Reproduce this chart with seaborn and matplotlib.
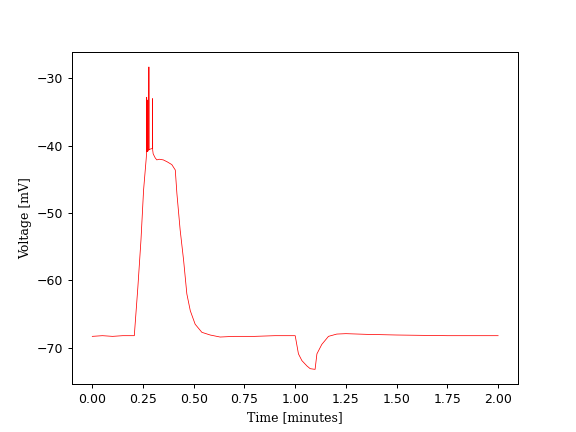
import numpy as np
import pandas as pd
import matplotlib
matplotlib.use("Agg")
import matplotlib.pyplot as plt
import seaborn as sns

# trace, time in minutes, voltage in mV
time_min = [
    0.00, 0.05, 0.10, 0.15, 0.207,
    0.2246, 0.2399, 0.2527, 0.266,
    0.2675, 0.268, 0.2685, 0.2695, 0.270, 0.2705,
    0.274, 0.2785, 0.279, 0.2795,
    0.285, 0.2965, 0.297, 0.2975,
    0.300, 0.310, 0.318, 0.330, 0.350, 0.370, 0.392,
    0.409, 0.417, 0.433, 0.450, 0.466, 0.483, 0.507, 0.540, 0.581, 0.630,
    0.70, 0.80, 0.90, 1.000,
    1.016, 1.033, 1.058, 1.074, 1.098,
    1.107, 1.131, 1.164, 1.205, 1.25, 1.35, 1.50, 1.75, 2.00,
]
voltage_mv = [
    -68.3, -68.2, -68.3, -68.2, -68.2,
    -61.0, -54.0, -46.6, -41.8,
    -41.0, -32.8, -40.8, -40.9, -33.2, -40.8,
    -40.8, -40.6, -28.3, -40.6,
    -40.5, -40.4, -33.0, -40.6,
    -41.2, -41.8, -42.1, -42.0, -42.1, -42.4, -42.8,
    -43.6, -47.1, -52.5, -57.0, -62.0, -64.5, -66.5, -67.7, -68.1, -68.4,
    -68.3, -68.3, -68.2, -68.2,
    -70.9, -71.9, -72.7, -73.1, -73.2,
    -70.9, -69.5, -68.3, -67.96, -67.9, -68.0, -68.1, -68.2, -68.2,
]

df = pd.DataFrame({"time": time_min, "voltage": voltage_mv})

fig, ax = plt.subplots(figsize=(6.4, 4.8), dpi=90)
sns.lineplot(data=df, x="time", y="voltage", ax=ax, color="red",
             linewidth=0.6, estimator=None, sort=False)
ax.set_xlabel("Time [minutes]", family="serif")
ax.set_ylabel("Voltage [mV]", family="serif")
ax.set_xticks(np.arange(0, 2.01, 0.25))
fig.savefig("out.png", dpi=90)
